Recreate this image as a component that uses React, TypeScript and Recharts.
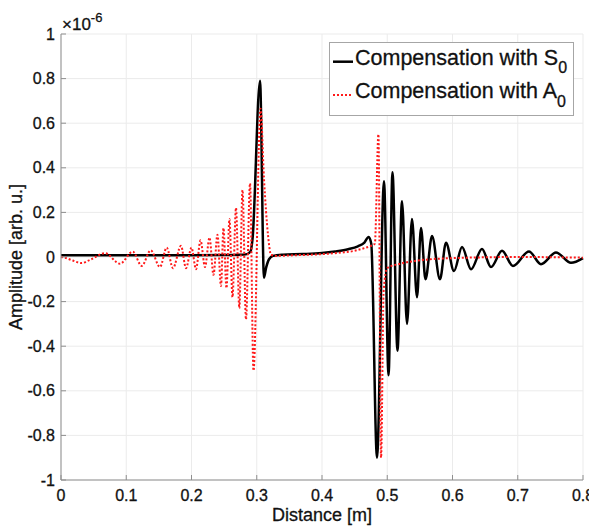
import { LineChart, Line, XAxis, YAxis, CartesianGrid } from "recharts";

const xTicks = [0, 0.1, 0.2, 0.3, 0.4, 0.5, 0.6, 0.7, 0.8];
const yTicks = [-1, -0.8, -0.6, -0.4, -0.2, 0, 0.2, 0.4, 0.6, 0.8, 1];

// S0 compensation (black solid), amplitude in units of 1e-6
const s0Distance = [
  0, 0.05, 0.1, 0.15, 0.2, 0.25, 0.275, 0.285, 0.2905, 0.2935, 0.305, 0.3111,
  0.3142, 0.3188, 0.325, 0.34, 0.37, 0.4, 0.42, 0.44, 0.455, 0.465, 0.4715,
  0.4755, 0.4843, 0.495, 0.502, 0.508, 0.5157, 0.5226, 0.5303, 0.5379, 0.5456,
  0.5517, 0.5586, 0.5686, 0.5808, 0.59, 0.6023, 0.6146, 0.6284, 0.6452, 0.659,
  0.6759, 0.6927, 0.7172, 0.7356, 0.7586, 0.7816, 0.8,
];
const s0Amplitude = [
  0.008, 0.008, 0.008, 0.008, 0.008, 0.009, 0.01, 0.013, 0.025, 0.08, 0.79,
  -0.093, -0.05, -0.01, 0.005, 0.01, 0.013, 0.018, 0.025, 0.035, 0.048, 0.065,
  0.09, 0.06, -0.9, 0.34, -0.53, 0.38, -0.42, 0.25, -0.3, 0.17, -0.18, 0.13,
  -0.1, 0.094, -0.1, 0.064, -0.063, 0.045, -0.055, 0.036, -0.045, 0.028, -0.04,
  0.025, -0.032, 0.02, -0.026, -0.005,
];

// A0 compensation (red dotted)
const a0Distance = [
  0, 0.008, 0.018, 0.0317, 0.045, 0.0674, 0.0904, 0.11, 0.1237, 0.1375, 0.1517,
  0.162, 0.1716, 0.1839, 0.1916, 0.2, 0.2069, 0.2138, 0.2207, 0.2276, 0.2337,
  0.2398, 0.2452, 0.249, 0.2536, 0.2582, 0.2628, 0.2682, 0.2733, 0.2782, 0.2835,
  0.2897, 0.295, 0.3058, 0.3111, 0.3172, 0.3219, 0.33, 0.36, 0.4, 0.43, 0.45,
  0.465, 0.475, 0.481, 0.4865, 0.4905, 0.4945, 0.5, 0.52, 0.55, 0.6, 0.7, 0.8,
];
const a0Amplitude = [
  0, -0.005, -0.016, -0.027, -0.012, 0.017, -0.03, 0.024, -0.04, 0.03, -0.045,
  0.042, -0.05, 0.05, -0.05, 0.042, -0.055, 0.075, -0.045, 0.087, -0.08, 0.1,
  -0.13, 0.13, -0.14, 0.17, -0.18, 0.22, -0.23, 0.3, -0.28, 0.33, -0.51, 0.665,
  0.35, 0.1, 0.01, 0.005, 0.008, 0.013, 0.02, 0.028, 0.04, 0.05, 0.06, 0.55,
  -0.9, -0.15, -0.05, -0.03, -0.015, -0.005, 0, -0.003,
];

const s0Data = s0Distance.map((d, i) => ({ d, v: s0Amplitude[i] }));
const a0Data = a0Distance.map((d, i) => ({ d, v: a0Amplitude[i] }));

const FONT = "'Liberation Sans', Arial, Helvetica, sans-serif";
const AXIS_COLOR = "#8f8f8f";
const TEXT_COLOR = "#111";
const tickStyle = {
  fontSize: 16,
  fill: TEXT_COLOR,
  fontFamily: FONT,
  stroke: TEXT_COLOR,
  strokeWidth: 0.3,
};

function XTitle({ viewBox }: any) {
  return (
    <text
      x={viewBox.x + viewBox.width / 2}
      y={521}
      textAnchor="middle"
      fontSize={18}
      fontFamily={FONT}
      fill={TEXT_COLOR}
      stroke={TEXT_COLOR}
      strokeWidth={0.3}
    >
      Distance [m]
    </text>
  );
}

function YTitle({ viewBox }: any) {
  const cx = 22;
  const cy = viewBox.y + viewBox.height / 2;
  return (
    <text
      x={cx}
      y={cy}
      transform={`rotate(-90 ${cx} ${cy})`}
      textAnchor="middle"
      fontSize={18}
      fontFamily={FONT}
      fill={TEXT_COLOR}
      stroke={TEXT_COLOR}
      strokeWidth={0.3}
    >
      Amplitude [arb. u.]
    </text>
  );
}

export default function App() {
  return (
    <div
      style={{
        position: "relative",
        width: 597,
        height: 526,
        marginLeft: -8,
        marginTop: -8,
      }}
    >
      <LineChart
        width={597}
        height={526}
        margin={{ top: 34, right: 14, bottom: 6, left: 21 }}
      >
        <CartesianGrid stroke="#ebebeb" />
        <XAxis
          dataKey="d"
          type="number"
          domain={[0, 0.8]}
          ticks={xTicks}
          tickFormatter={(v: number) => String(v)}
          tick={tickStyle}
          tickSize={-5}
          tickMargin={15}
          height={40}
          stroke={AXIS_COLOR}
          label={<XTitle />}
        />
        <XAxis
          xAxisId="top"
          orientation="top"
          type="number"
          domain={[0, 0.8]}
          ticks={xTicks}
          tick={false}
          tickSize={-5}
          height={0}
          stroke={AXIS_COLOR}
        />
        <YAxis
          type="number"
          domain={[-1, 1]}
          ticks={yTicks}
          tickFormatter={(v: number) => String(v)}
          tick={tickStyle}
          tickSize={-5}
          tickMargin={11}
          width={40}
          stroke={AXIS_COLOR}
          label={<YTitle />}
        />
        <YAxis
          yAxisId="right"
          orientation="right"
          type="number"
          domain={[-1, 1]}
          ticks={yTicks}
          tick={false}
          tickSize={-5}
          width={0}
          stroke={AXIS_COLOR}
        />
        <Line
          data={s0Data}
          dataKey="v"
          type="monotone"
          stroke="#000"
          strokeWidth={2.5}
          dot={false}
          isAnimationActive={false}
        />
        <Line
          data={a0Data}
          dataKey="v"
          type="monotone"
          stroke="#ff1a1a"
          strokeWidth={2}
          strokeDasharray="2 2"
          dot={false}
          isAnimationActive={false}
        />
      </LineChart>
      <svg
        width={597}
        height={526}
        style={{ position: "absolute", left: 0, top: 0, pointerEvents: "none" }}
        fontFamily={FONT}
      >
        <text x={62} y={29.5} fontSize={17} fill={TEXT_COLOR} stroke={TEXT_COLOR} strokeWidth={0.3}>
          ×10<tspan fontSize={13} dy={-8}>-6</tspan>
        </text>
        <rect x={329.5} y={42.5} width={244} height={73} fill="#fff" stroke="#a6a6a6" />
        <line x1={333} x2={353} y1={61.7} y2={61.7} stroke="#000" strokeWidth={2.5} />
        <text x={355} y={65} fontSize={21.5} fill={TEXT_COLOR} stroke={TEXT_COLOR} strokeWidth={0.3}>
          Compensation with S<tspan fontSize={16} dy={8}>0</tspan>
        </text>
        <line
          x1={333}
          x2={353}
          y1={95}
          y2={95}
          stroke="#ff1a1a"
          strokeWidth={2}
          strokeDasharray="2 2"
        />
        <text x={355} y={98.3} fontSize={21.5} fill={TEXT_COLOR} stroke={TEXT_COLOR} strokeWidth={0.3}>
          Compensation with A<tspan fontSize={16} dy={9}>0</tspan>
        </text>
      </svg>
    </div>
  );
}
